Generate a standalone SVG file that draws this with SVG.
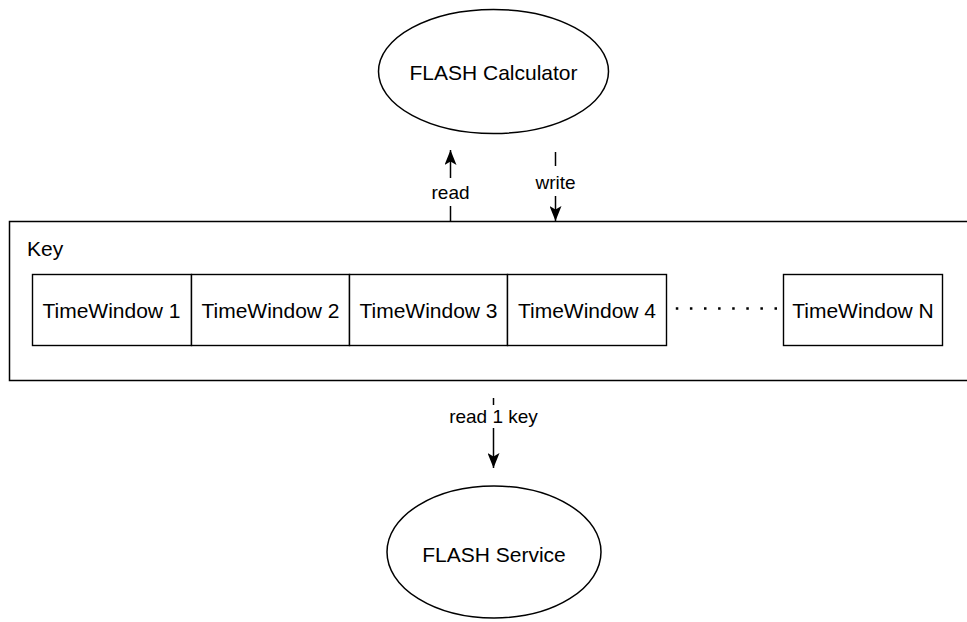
<svg xmlns="http://www.w3.org/2000/svg" width="967" height="622" viewBox="0 0 967 622">
  <defs>
    <marker id="arrow" viewBox="0 0 16 12" refX="15" refY="6" markerWidth="16" markerHeight="12" markerUnits="userSpaceOnUse" orient="auto">
      <path d="M0,0 L15,6 L0,12 L3.5,6 Z" fill="#000"/>
    </marker>
  </defs>
  <style>
    text { font-family: "Liberation Sans", Arial, Helvetica, sans-serif; fill: #000; }
    .node { fill: #fff; stroke: #000; stroke-width: 1.5; }
    .cell { fill: #fff; stroke: #000; stroke-width: 1.4; }
    .big { font-size: 21px; }
    .lbl { font-size: 19px; text-anchor: middle; }
    .mid { text-anchor: middle; }
    .edge { fill: none; stroke: #000; stroke-width: 1.5; }
    .bg { fill: #fff; }
  </style>
  <rect width="967" height="622" fill="#fff"/>

  <!-- calculator process -->
  <g id="flash-calculator">
    <ellipse class="node" cx="493.5" cy="71.5" rx="115" ry="62"/>
    <text class="big mid" x="493.5" y="79.5">FLASH Calculator</text>
  </g>

  <!-- key container with its time windows -->
  <g id="key">
    <rect class="node" x="9.5" y="221.5" width="970" height="159"/>
    <text class="big" x="27" y="256">Key</text>
  </g>
  <g id="tw1">
    <rect class="cell" x="32.5" y="274.5" width="159" height="71"/>
    <text class="big mid" x="111.5" y="318">TimeWindow 1</text>
  </g>
  <g id="tw2">
    <rect class="cell" x="191.5" y="274.5" width="158" height="71"/>
    <text class="big mid" x="270.5" y="318">TimeWindow 2</text>
  </g>
  <g id="tw3">
    <rect class="cell" x="349.5" y="274.5" width="158" height="71"/>
    <text class="big mid" x="428.5" y="318">TimeWindow 3</text>
  </g>
  <g id="tw4">
    <rect class="cell" x="507.5" y="274.5" width="159" height="71"/>
    <text class="big mid" x="587" y="318">TimeWindow 4</text>
  </g>
  <g id="twN">
    <rect class="cell" x="783.5" y="274.5" width="159" height="71"/>
    <text class="big mid" x="863" y="318">TimeWindow N</text>
  </g>

  <!-- service process -->
  <g id="flash-service">
    <ellipse class="node" cx="494" cy="552" rx="107" ry="66"/>
    <text class="big mid" x="494" y="562">FLASH Service</text>
  </g>

  <!-- connectors -->
  <g id="connectors">
    <!-- elided windows -->
    <line x1="675.8" y1="308.5" x2="778" y2="308.5" stroke="#000" stroke-width="2.6" stroke-dasharray="2.5 11.6"/>

    <!-- read -->
    <line class="edge" x1="450.5" y1="221" x2="450.5" y2="150" marker-end="url(#arrow)"/>
    <rect class="bg" x="428" y="178" width="45" height="28"/>
    <text class="lbl" x="450.5" y="199">read</text>

    <!-- write -->
    <line class="edge" x1="555.5" y1="152" x2="555.5" y2="221" marker-end="url(#arrow)"/>
    <rect class="bg" x="533" y="166" width="45" height="30"/>
    <text class="lbl" x="555.5" y="188.5">write</text>

    <!-- read 1 key -->
    <line class="edge" x1="493.5" y1="398" x2="493.5" y2="468" marker-end="url(#arrow)"/>
    <rect class="bg" x="446" y="405" width="95" height="23"/>
    <text class="lbl" x="493.5" y="423">read 1 key</text>
  </g>
</svg>
